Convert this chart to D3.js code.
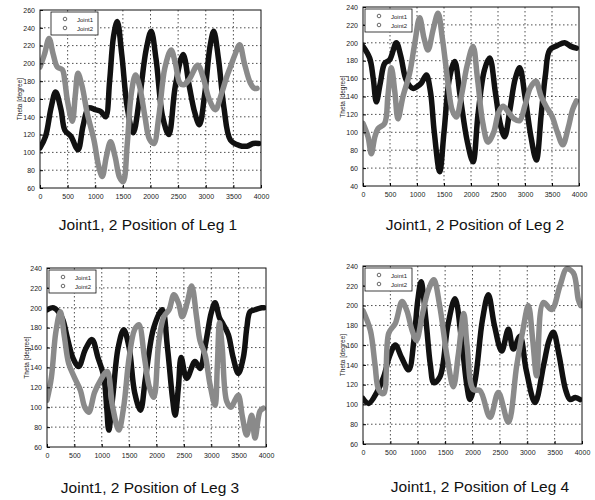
<!DOCTYPE html>
<html>
<head>
<meta charset="utf-8">
<script src="https://cdn.jsdelivr.net/npm/d3@7"></script>
<style>
  body { margin: 0; background: #fff; }
  svg { display: block; }
  text { font-family: "Liberation Sans", Arial, sans-serif; }
</style>
</head>
<body>
<div id="chart"></div>
<script>
// x ticks shared by every panel
const xTicks = [0, 500, 1000, 1500, 2000, 2500, 3000, 3500, 4000];
const seriesNames = ["Joint1", "Joint2"];
const titles = [
  "Joint1, 2 Position of Leg 1",
  "Joint1, 2 Position of Leg 2",
  "Joint1, 2 Position of Leg 3",
  "Joint1, 2 Position of Leg 4"
];
const yDomains = [[60, 260], [40, 240], [60, 240], [60, 240]];

// [sample, degree]
const leg1Joint1 = [[0,105],[100,118],[200,150],[283,168],[380,148],[450,125],[560,118],[687,103],[780,130],[880,150],[1000,148],[1100,146],[1187,140],[1260,180],[1330,230],[1398,247],[1480,210],[1580,150],[1687,122],[1800,160],[1920,215],[2012,236],[2100,205],[2220,140],[2331,120],[2450,175],[2590,210],[2700,175],[2800,145],[2885,131],[2980,165],[3080,220],[3145,236],[3230,205],[3330,150],[3446,114],[3600,108],[3747,107],[3860,110],[3958,110]];
const leg1Joint2 = [[0,196],[80,210],[163,228],[240,210],[313,196],[404,193],[450,180],[494,159],[584,135],[640,165],[687,189],[760,175],[855,144],[976,114],[1060,85],[1127,73],[1200,95],[1277,112],[1360,95],[1440,72],[1506,67],[1580,110],[1650,165],[1729,187],[1800,175],[1900,140],[1980,115],[2060,110],[2150,140],[2260,195],[2373,215],[2450,200],[2530,178],[2602,176],[2700,182],[2855,198],[2950,185],[3060,160],[3175,148],[3280,165],[3380,185],[3446,196],[3530,210],[3614,221],[3700,200],[3807,178],[3880,172],[3928,172]];

const leg2Joint1 = [[0,196],[123,183],[190,160],[247,134],[320,155],[401,177],[494,181],[617,200],[700,185],[802,158],[926,149],[1000,151],[1080,155],[1173,164],[1250,145],[1320,100],[1420,56],[1500,100],[1600,160],[1698,179],[1800,140],[1930,90],[2037,67],[2130,120],[2250,170],[2346,183],[2450,145],[2540,110],[2623,95],[2720,125],[2820,160],[2901,172],[3000,140],[3110,95],[3210,69],[3300,120],[3380,165],[3457,192],[3600,197],[3735,200],[3850,196],[3951,194]];
const leg2Joint2 = [[0,110],[93,95],[154,76],[220,95],[278,104],[401,110],[460,140],[525,172],[590,145],[648,115],[740,140],[864,166],[960,200],[1049,228],[1130,205],[1204,192],[1300,215],[1389,233],[1470,205],[1574,155],[1650,125],[1728,117],[1820,140],[1930,175],[2037,196],[2120,160],[2220,110],[2315,89],[2420,100],[2510,122],[2593,129],[2700,122],[2800,115],[2900,113],[3000,130],[3100,150],[3200,157],[3300,140],[3400,128],[3500,118],[3600,100],[3700,86],[3800,105],[3880,125],[3951,135]];

const leg3Joint1 = [[0,198],[122,200],[274,190],[366,171],[470,150],[579,141],[700,158],[823,168],[930,150],[1037,131],[1090,100],[1128,77],[1200,110],[1300,160],[1402,178],[1500,160],[1600,115],[1707,97],[1800,130],[1950,180],[2104,198],[2200,160],[2290,110],[2340,92],[2400,120],[2450,150],[2551,129],[2703,146],[2794,139],[2900,165],[3000,195],[3069,205],[3150,190],[3221,183],[3312,173],[3400,150],[3494,134],[3586,150],[3650,180],[3708,196],[3800,198],[3921,200],[3963,200]];
const leg3Joint2 = [[0,107],[80,130],[160,175],[244,196],[320,170],[396,144],[500,130],[610,117],[690,100],[762,95],[870,115],[976,127],[1098,136],[1200,100],[1311,77],[1400,100],[1500,150],[1600,178],[1677,183],[1780,150],[1870,120],[1951,110],[2040,165],[2134,191],[2230,198],[2317,213],[2400,205],[2470,191],[2560,205],[2642,222],[2734,190],[2794,167],[2886,153],[2977,123],[3069,102],[3110,140],[3150,185],[3200,160],[3282,106],[3360,100],[3434,107],[3494,112],[3570,90],[3647,72],[3738,92],[3799,69],[3890,96],[3951,99]];

const leg4Joint1 = [[0,106],[104,101],[250,112],[378,128],[480,148],[591,160],[700,148],[835,135],[930,165],[1000,205],[1061,224],[1150,185],[1230,140],[1293,122],[1406,128],[1550,180],[1680,207],[1800,165],[1900,118],[1954,105],[2050,125],[2180,185],[2289,211],[2400,180],[2533,154],[2655,176],[2746,156],[2868,169],[2980,135],[3142,102],[3300,140],[3400,165],[3477,173],[3580,150],[3700,115],[3781,105],[3880,107],[3963,105]];
const leg4Joint2 = [[0,195],[134,175],[220,140],[287,115],[378,111],[470,172],[591,182],[713,204],[800,195],[896,175],[976,165],[1080,190],[1190,215],[1293,226],[1400,200],[1537,148],[1650,118],[1740,150],[1840,192],[1900,160],[2015,115],[2137,114],[2320,87],[2472,112],[2655,82],[2807,139],[2920,175],[3020,200],[3100,165],[3172,129],[3294,203],[3446,196],[3598,220],[3720,237],[3842,233],[3933,206],[3976,200]];

const legs = [
  [leg1Joint1, leg1Joint2],
  [leg2Joint1, leg2Joint2],
  [leg3Joint1, leg3Joint2],
  [leg4Joint1, leg4Joint2]
];

// where each panel sits on the page
const panels = [
  { left: 40, right: 261, top: 10, bottom: 188, titleX: 148, titleY: 230, legendDx: 11 },
  { left: 363, right: 579, top: 7, bottom: 186, titleX: 475, titleY: 230, legendDx: 2 },
  { left: 47, right: 266, top: 268, bottom: 447, titleX: 150, titleY: 493, legendDx: 2 },
  { left: 363, right: 582, top: 266, bottom: 444, titleX: 480, titleY: 492, legendDx: 2 }
];
const colors = ["#111", "#8a8a8a"];

const svg = d3.select("#chart").append("svg")
  .attr("width", 595)
  .attr("height", 500);

const drawPanel = (p, i) => {
  const x = d3.scaleLinear().domain([0, 4000]).range([p.left, p.right]);
  const yDom = yDomains[i];
  const y = d3.scaleLinear().domain(yDom).range([p.bottom, p.top]);
  const yTicks = d3.range(yDom[0], yDom[1] + 1, 20);
  const g = svg.append("g");

  // dotted grid
  g.append("g").selectAll("line").data(xTicks.slice(1, -1)).join("line")
    .attr("x1", d => x(d)).attr("x2", d => x(d))
    .attr("y1", p.top).attr("y2", p.bottom)
    .attr("stroke", "#222").attr("stroke-width", 0.8).attr("stroke-dasharray", "1.5,2.5");
  g.append("g").selectAll("line").data(yTicks.slice(1, -1)).join("line")
    .attr("x1", p.left).attr("x2", p.right)
    .attr("y1", d => y(d)).attr("y2", d => y(d))
    .attr("stroke", "#222").attr("stroke-width", 0.8).attr("stroke-dasharray", "1.5,2.5");

  // clip the thick lines to the box
  const clipId = "clip" + i;
  g.append("clipPath").attr("id", clipId).append("rect")
    .attr("x", p.left).attr("y", p.top)
    .attr("width", p.right - p.left).attr("height", p.bottom - p.top);

  const line = d3.line()
    .x(d => x(d[0]))
    .y(d => y(d[1]))
    .curve(d3.curveCatmullRom.alpha(0.5));

  legs[i].forEach((s, k) => {
    g.append("path")
      .datum(s)
      .attr("clip-path", `url(#${clipId})`)
      .attr("fill", "none")
      .attr("stroke", colors[k])
      .attr("stroke-width", 5.5)
      .attr("stroke-linejoin", "round")
      .attr("stroke-linecap", "round")
      .attr("d", line);
  });

  // axes
  const xAxis = d3.axisBottom(x).tickValues(xTicks).tickFormat(d3.format("d")).tickSize(-3).tickPadding(6);
  const yAxis = d3.axisLeft(y).tickValues(yTicks).tickSize(-3).tickPadding(5);
  g.append("g").attr("transform", `translate(0,${p.bottom})`).call(xAxis)
    .call(a => a.select(".domain").remove())
    .selectAll("text").attr("font-size", 7).attr("fill", "#222");
  g.append("g").attr("transform", `translate(${p.left},0)`).call(yAxis)
    .call(a => a.select(".domain").remove())
    .selectAll("text").attr("font-size", 7).attr("fill", "#222");
  g.append("rect")
    .attr("x", p.left).attr("y", p.top)
    .attr("width", p.right - p.left).attr("height", p.bottom - p.top)
    .attr("fill", "none").attr("stroke", "#111").attr("stroke-width", 1);

  // y label
  g.append("text")
    .attr("transform", `translate(${p.left - 18},${(p.top + p.bottom) / 2}) rotate(-90)`)
    .attr("text-anchor", "middle")
    .attr("font-size", 6.5)
    .attr("fill", "#222")
    .text("Theta [degree]");

  // legend
  const lx = p.left + p.legendDx, ly = p.top + 2;
  const lg = g.append("g");
  lg.append("rect").attr("x", lx).attr("y", ly).attr("width", 47).attr("height", 23)
    .attr("fill", "#fff").attr("stroke", "#111").attr("stroke-width", 0.8);
  seriesNames.forEach((n, k) => {
    lg.append("circle").attr("cx", lx + 14).attr("cy", ly + 7 + k * 9).attr("r", 1.8)
      .attr("fill", "none").attr("stroke", "#444").attr("stroke-width", 0.8);
    lg.append("text").attr("x", lx + 26).attr("y", ly + 9.5 + k * 9)
      .attr("font-size", 6).attr("fill", "#222").text(n);
  });

  // title under the panel
  svg.append("text")
    .attr("x", p.titleX).attr("y", p.titleY)
    .attr("text-anchor", "middle")
    .attr("font-size", 15.5)
    .attr("fill", "#111")
    .text(titles[i]);
};

panels.forEach(drawPanel);
</script>
</body>
</html>
